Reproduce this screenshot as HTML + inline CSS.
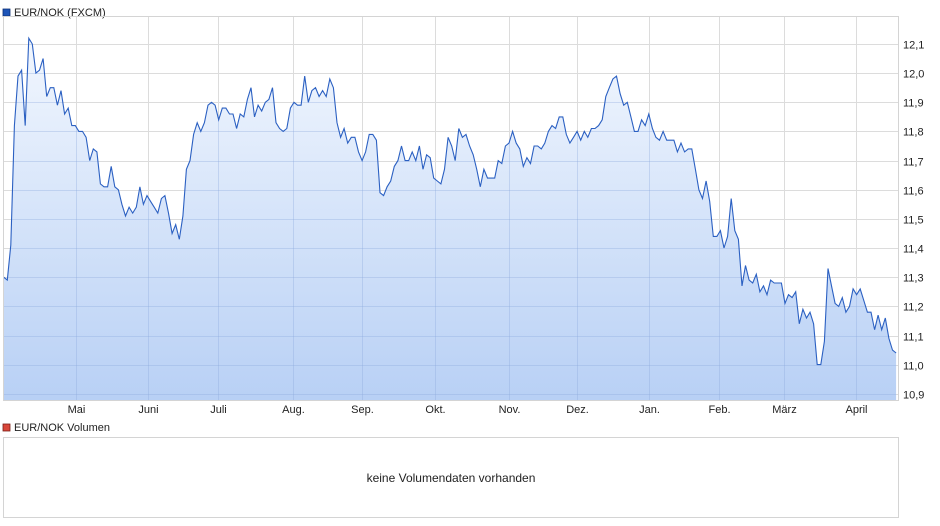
<!DOCTYPE html>
<html><head><meta charset="utf-8">
<style>
html,body{margin:0;padding:0;background:#fff;}
body{width:940px;height:526px;overflow:hidden;font-family:"Liberation Sans",Arial,sans-serif;}
svg{display:block}
</style></head>
<body>
<svg id="chart" width="940" height="526" viewBox="0 0 940 526">
<defs>
<linearGradient id="fillg" x1="0" y1="0" x2="0" y2="1">
<stop offset="0" stop-color="#f2f7fe"/>
<stop offset="1" stop-color="#b8d0f5"/>
</linearGradient>
<clipPath id="areaclip"><path id="clippath"/></clipPath>
</defs>
<rect x="3" y="9" width="7" height="7" fill="#1d55b8" stroke="#0c2f75" stroke-width="0.8"/>
<text x="14" y="16" font-size="11" fill="#222">EUR/NOK (FXCM)</text>
<g id="grid"></g>
<text x="450" y="212" font-size="24" font-style="italic" font-weight="bold" fill="#e4eaf2" text-anchor="middle">ARIVA.DE</text>
<path id="area" fill="url(#fillg)"/>
<g id="grid2" clip-path="url(#areaclip)"></g>
<path id="line" fill="none" stroke="#2b60c2" stroke-width="1.1"/>
<rect x="3.5" y="16.5" width="895" height="384" fill="none" stroke="#d4d4d4"/>
<g id="yaxis"></g>
<g id="xaxis"></g>
<rect x="3" y="424" width="7" height="7" fill="#d9473a" stroke="#7a1f18" stroke-width="0.8"/>
<text x="14" y="431" font-size="11" fill="#222">EUR/NOK Volumen</text>
<rect x="3.5" y="437.5" width="895" height="80" fill="#fff" stroke="#d4d4d4"/>
<text x="451" y="482" font-size="12" fill="#222" text-anchor="middle">keine Volumendaten vorhanden</text>
</svg>
<script>
const yTicks = [12.1,12.0,11.9,11.8,11.7,11.6,11.5,11.4,11.3,11.2,11.1,11.0,10.9];
const monthLabels = ["Mai","Juni","Juli","Aug.","Sep.","Okt.","Nov.","Dez.","Jan.","Feb.","März","April"];
const monthDays = [30,61,91,123,153,184,216,245,276,306,334,365];
const startDay = -1;
const endDay = 382;
const values = [
11.30,11.29,11.41,11.82,11.99,12.01,11.82,12.12,12.10,12.00,12.01,12.05,11.92,11.95,11.95,11.89,11.94,11.86,11.88,11.82,
11.82,11.80,11.80,11.78,11.70,11.74,11.73,11.62,11.61,11.61,11.68,11.61,11.60,11.55,11.51,11.54,11.52,11.54,11.61,11.55,
11.58,11.56,11.54,11.52,11.57,11.58,11.52,11.45,11.48,11.43,11.51,11.67,11.70,11.79,11.83,11.80,11.83,11.89,11.90,11.89,
11.84,11.88,11.88,11.86,11.86,11.81,11.86,11.85,11.91,11.95,11.85,11.89,11.87,11.90,11.91,11.95,11.83,11.81,11.80,11.81,
11.88,11.90,11.89,11.89,11.99,11.90,11.94,11.95,11.92,11.94,11.92,11.98,11.95,11.83,11.78,11.81,11.76,11.78,11.78,11.73,
11.70,11.73,11.79,11.79,11.77,11.59,11.58,11.61,11.63,11.68,11.70,11.75,11.70,11.70,11.73,11.70,11.75,11.67,11.72,11.71,
11.64,11.63,11.62,11.67,11.78,11.75,11.70,11.81,11.78,11.79,11.75,11.72,11.67,11.61,11.67,11.64,11.64,11.64,11.70,11.69,
11.75,11.76,11.80,11.76,11.74,11.68,11.71,11.69,11.75,11.75,11.74,11.76,11.80,11.82,11.81,11.85,11.85,11.79,11.76,11.78,
11.80,11.77,11.80,11.78,11.81,11.81,11.82,11.84,11.92,11.95,11.98,11.99,11.93,11.89,11.90,11.85,11.80,11.80,11.84,11.82,
11.86,11.81,11.78,11.77,11.80,11.77,11.77,11.77,11.73,11.76,11.73,11.74,11.74,11.67,11.60,11.57,11.63,11.56,11.44,11.44,
11.46,11.40,11.44,11.57,11.46,11.43,11.27,11.34,11.29,11.28,11.31,11.25,11.27,11.24,11.29,11.28,11.28,11.28,11.21,11.24,
11.23,11.25,11.14,11.19,11.16,11.18,11.14,11.00,11.00,11.08,11.33,11.27,11.21,11.20,11.23,11.18,11.20,11.26,11.24,11.26,
11.22,11.18,11.18,11.12,11.17,11.12,11.16,11.09,11.05,11.04
];
const L=3.5,R=898.5,T=16.5,B=400.5;
function yScale(v){return 44+(12.1-v)*291.5;}
function xDay(d){return 6+d*2.33;}
function xIndex(i){return xDay(startDay+i*(endDay-startDay)/(values.length-1));}
const NS="http://www.w3.org/2000/svg";
const grid=document.getElementById('grid'), grid2=document.getElementById('grid2'), yaxis=document.getElementById('yaxis'), xaxis=document.getElementById('xaxis');
yTicks.forEach(v=>{
  const y=Math.round(yScale(v))+0.5;
  const ln=document.createElementNS(NS,'line');
  ln.setAttribute('x1',L);ln.setAttribute('x2',R);ln.setAttribute('y1',y);ln.setAttribute('y2',y);
  ln.setAttribute('stroke','#dcdcdc');
  
  
  grid.appendChild(ln);
  const ln2=document.createElementNS(NS,'line');
  ln2.setAttribute('x1',L);ln2.setAttribute('x2',R);ln2.setAttribute('y1',y);ln2.setAttribute('y2',y);
  ln2.setAttribute('stroke','rgba(140,170,220,0.35)');
  
  
  grid2.appendChild(ln2);
  const t=document.createElementNS(NS,'text');
  t.setAttribute('x',903);t.setAttribute('y',y+4);t.setAttribute('font-size','11');t.setAttribute('fill','#222');
  t.textContent=v.toFixed(1).replace('.',',');
  
  
  yaxis.appendChild(t);
});
monthDays.forEach((d,i)=>{
  const x=Math.round(xDay(d))+0.5;
  const ln=document.createElementNS(NS,'line');
  ln.setAttribute('x1',x);ln.setAttribute('x2',x);ln.setAttribute('y1',T);ln.setAttribute('y2',B);
  ln.setAttribute('stroke','#dcdcdc');
  
  
  grid.appendChild(ln);
  const ln2=document.createElementNS(NS,'line');
  ln2.setAttribute('x1',x);ln2.setAttribute('x2',x);ln2.setAttribute('y1',T);ln2.setAttribute('y2',B);
  ln2.setAttribute('stroke','rgba(140,170,220,0.35)');
  
  
  grid2.appendChild(ln2);
  const t=document.createElementNS(NS,'text');
  t.setAttribute('x',x);t.setAttribute('y',413);t.setAttribute('font-size','11');t.setAttribute('fill','#222');t.setAttribute('text-anchor','middle');
  t.textContent=monthLabels[i];
  
  
  xaxis.appendChild(t);
});
let d='';
values.forEach((v,i)=>{d+=(i?'L':'M')+xIndex(i).toFixed(1)+','+yScale(v).toFixed(1);});
const areaD=d+'L'+xIndex(values.length-1).toFixed(1)+','+B+'L'+xIndex(0).toFixed(1)+','+B+'Z';
document.getElementById('line').setAttribute('d',d);
document.getElementById('area').setAttribute('d',areaD);
document.getElementById('clippath').setAttribute('d',areaD);
</script>
</body></html>
